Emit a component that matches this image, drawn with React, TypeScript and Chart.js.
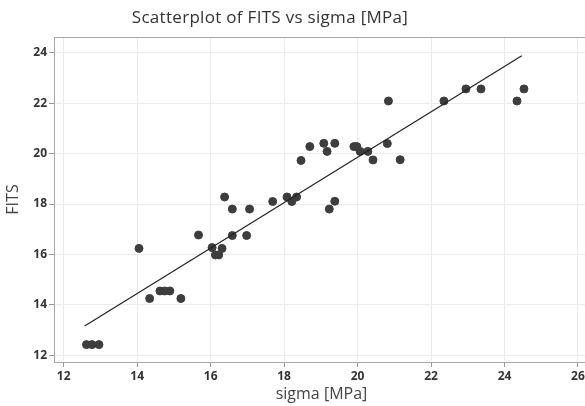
import React, { useEffect, useRef } from "react";
import { Chart, registerables } from "chart.js";

Chart.register(...registerables);

const sigma = [12.62, 12.77, 12.96, 14.05, 14.34, 14.62, 14.75, 14.89, 15.19, 15.67, 16.04, 16.13, 16.22, 16.31, 16.38, 16.59, 16.59, 16.98, 17.06, 17.69, 18.08, 18.21, 18.34, 18.46, 18.7, 19.08, 19.17, 19.23, 19.38, 19.38, 19.9, 19.98, 20.07, 20.28, 20.42, 20.81, 20.84, 21.16, 22.35, 22.95, 23.36, 24.34, 24.53];
const fits = [12.42, 12.42, 12.42, 16.24, 14.25, 14.55, 14.55, 14.55, 14.25, 16.77, 16.27, 15.98, 15.98, 16.24, 18.28, 17.8, 16.75, 16.75, 17.8, 18.1, 18.28, 18.1, 18.28, 19.73, 20.28, 20.41, 20.09, 17.8, 20.41, 18.11, 20.28, 20.28, 20.09, 20.09, 19.75, 20.4, 22.09, 19.76, 22.09, 22.57, 22.57, 22.09, 22.57];
const fitLineX = [12.57, 24.47];
const fitLineY = [13.16, 23.89];
const xTicks = [12, 14, 16, 18, 20, 22, 24, 26];
const yTicks = [12, 14, 16, 18, 20, 22, 24];
const titleText = "Scatterplot of FITS vs sigma [MPa]";
const xLabel = "sigma [MPa]";
const yLabel = "FITS";

const FONT = "'Open Sans', 'DejaVu Sans', sans-serif";

export default function App() {
  const ref = useRef<HTMLCanvasElement | null>(null);
  useEffect(() => {
    if (!ref.current) return;
    const titlePlugin = {
      id: "customTitle",
      afterDraw(chart: any) {
        const ctx = chart.ctx;
        ctx.save();
        ctx.font = `17px ${FONT}`;
        try { (ctx as any).letterSpacing = "0.3px"; } catch (e) {}
        ctx.fillStyle = "#333333";
        ctx.textAlign = "center";
        ctx.textBaseline = "middle";
        ctx.fillText(titleText, 270, 18);
        ctx.restore();
      },
    };
    const framePlugin = {
      id: "frame",
      beforeDatasetsDraw(chart: any) {
        const { ctx, chartArea } = chart;
        ctx.save();
        ctx.strokeStyle = "#a8a8a8";
        ctx.lineWidth = 1;
        ctx.strokeRect(chartArea.left + 0.5, chartArea.top + 0.5, chartArea.right - chartArea.left, chartArea.bottom - chartArea.top);
        ctx.restore();
      },
    };
    const chart = new Chart(ref.current, {
      type: "scatter",
      data: {
        datasets: [
          {
            label: "FITS",
            data: sigma.map((x, i) => ({ x, y: fits[i] })),
            backgroundColor: "#3d3d3d",
            borderColor: "#3d3d3d",
            pointRadius: 4,
            pointHoverRadius: 4,
            order: 2,
          },
          {
            label: "Fit",
            type: "line",
            data: fitLineX.map((x, i) => ({ x, y: fitLineY[i] })),
            borderColor: "#222222",
            borderWidth: 1.2,
            pointRadius: 0,
            showLine: true,
            fill: false,
            order: 1,
          } as any,
        ],
      },
      options: {
        animation: false,
        responsive: false,
        maintainAspectRatio: false,
        layout: { padding: { top: 37, right: 11, left: 0, bottom: 0 } },
        plugins: {
          legend: { display: false },
          title: { display: false },
          tooltip: { enabled: false },
        },
        scales: {
          x: {
            type: "linear",
            min: 11.736,
            max: 26.3,
            afterBuildTicks(scale: any) {
              scale.ticks = xTicks.map((v) => ({ value: v }));
            },
            afterFit(scale: any) {
              scale.height = 44;
            },
            ticks: {
              font: { family: FONT, size: 12, weight: "bold" },
              color: "#333333",
              padding: 2,
              maxRotation: 0,
              autoSkip: false,
            },
            grid: {
              color: "#ebebeb",
              lineWidth: 1,
              tickLength: 5,
              tickColor: "#999999",
            },
            border: { color: "#999999" },
            title: {
              display: true,
              text: xLabel,
              font: { family: FONT, size: 16 },
              color: "#444444",
              padding: { top: 0, bottom: 2 },
            },
          },
          y: {
            type: "linear",
            min: 11.73,
            max: 24.63,
            afterBuildTicks(scale: any) {
              scale.ticks = yTicks.map((v) => ({ value: v }));
            },
            afterFit(scale: any) {
              scale.width = 54;
            },
            ticks: {
              font: { family: FONT, size: 12, weight: "bold" },
              color: "#333333",
              padding: 2,
              autoSkip: false,
            },
            grid: {
              color: "#ebebeb",
              lineWidth: 1,
              tickLength: 5,
              tickColor: "#999999",
            },
            border: { color: "#999999" },
            title: {
              display: true,
              text: yLabel,
              font: { family: FONT, size: 16 },
              color: "#444444",
              padding: { top: 4, bottom: 0 },
            },
          },
        },
      },
      plugins: [titlePlugin, framePlugin],
    });
    return () => chart.destroy();
  }, []);
  return (
    <div style={{ position: "fixed", left: 0, top: 0, width: 600, height: 406, background: "#ffffff" }}>
      <canvas ref={ref} width={600} height={406} style={{ display: "block", width: 600, height: 406 }} />
    </div>
  );
}
